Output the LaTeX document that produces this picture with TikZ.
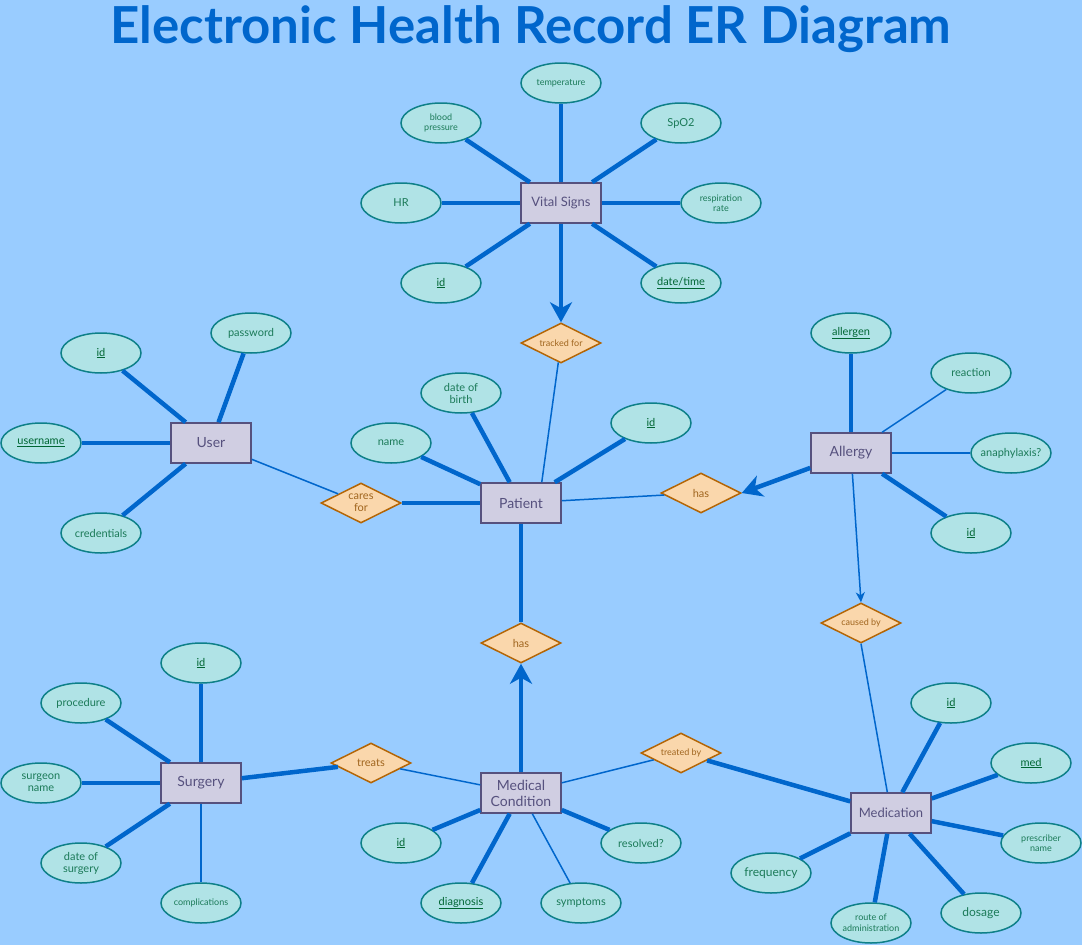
\documentclass[tikz,border=0pt]{standalone}
\usepackage{fontspec}
\setmainfont{Lato}
\usetikzlibrary{positioning,arrows.meta,shapes.geometric}

\definecolor{bgblue}{HTML}{99CCFF}
\definecolor{linkblue}{HTML}{0066CC}
\definecolor{entfill}{HTML}{D0CEE2}
\definecolor{entdraw}{HTML}{56517E}
\definecolor{attfill}{HTML}{B0E3E6}
\definecolor{attdraw}{HTML}{0E8088}
\definecolor{atttext}{HTML}{1B7A58}
\definecolor{keytext}{HTML}{006633}
\definecolor{relfill}{HTML}{FAD7AC}
\definecolor{reldraw}{HTML}{B46504}
\definecolor{reltext}{HTML}{A0651E}

\begin{document}
\begin{tikzpicture}[
  x=1pt, y=-1pt,
  entity/.style={rectangle, draw=entdraw, fill=entfill, line width=1.5pt, minimum width=80pt, minimum height=40pt, inner sep=1pt, align=center, text=entdraw, font=\fontsize{14}{16}\selectfont},
  attr/.style={ellipse, draw=attdraw, fill=attfill, line width=1.5pt, minimum width=80pt, minimum height=40pt, inner xsep=-10pt, inner ysep=0pt, align=center, text=atttext, font=\fontsize{11}{12}\selectfont},
  keyattr/.style={attr, text=keytext},
  small/.style={font=\fontsize{9}{10.5}\selectfont},
  rel/.style={diamond, aspect=2, draw=reldraw, fill=relfill, line width=1.5pt, minimum width=80pt, minimum height=40pt, inner sep=0pt, align=center, text=reltext, font=\fontsize{11}{12}\selectfont},
  heavy/.style={draw=linkblue, line width=4.5pt},
  light/.style={draw=linkblue, line width=1.5pt},
  bigarrow/.style={heavy, -{Stealth[length=20pt, width=22pt, inset=6pt]}},
  smallarrow/.style={light, -{Stealth[length=10pt, width=9pt, inset=3pt]}}
]
  \fill[bgblue] (0,0) rectangle (1082,945);
  \useasboundingbox (0,0) rectangle (1082,945);

  \node[text=linkblue, font=\bfseries\fontsize{51}{56}\selectfont] (title) at (531,29) {Electronic Health Record ER Diagram};

  % entities
  \node[entity, font=\fontsize{13}{15}\selectfont] (vitals) at (561,203) {Vital Signs};
  \node[entity] (user) at (211,443) {User};
  \node[entity] (patient) at (521,503) {Patient};
  \node[entity] (allergy) at (851,453) {Allergy};
  \node[entity] (surgery) at (201,783) {Surgery};
  \node[entity] (condition) at (521,793) {Medical\\Condition};
  \node[entity, font=\fontsize{13}{15}\selectfont] (medication) at (891,813) {Medication};

  % relationships
  \node[rel, small] (trackedfor) at (561,343) {tracked for};
  \node[rel] (caresfor) at (361,503) {cares\\for};
  \node[rel] (hasallergy) at (701,493) {has};
  \node[rel] (hascondition) at (521,643) {has};
  \node[rel, small] (causedby) at (861,623) {caused by};
  \node[rel] (treats) at (371,763) {treats};
  \node[rel, small] (treatedby) at (681,753) {treated by};

  % vital signs attributes
  \node[attr, small] (vtemp) at (561,83) {temperature};
  \node[attr, small] (vbp) at (441,123) {blood\\pressure};
  \node[attr] (vspo) at (681,123) {SpO2};
  \node[attr] (vhr) at (401,203) {HR};
  \node[attr, small] (vresp) at (721,203) {respiration\\rate};
  \node[keyattr] (vid) at (441,283) {\underline{id}};
  \node[keyattr] (vdate) at (681,283) {\underline{date/time}};

  % user attributes
  \node[keyattr] (uid) at (101,353) {\underline{id}};
  \node[attr] (upass) at (251,333) {password};
  \node[keyattr] (uname) at (41,443) {\underline{username}};
  \node[attr] (ucred) at (101,533) {credentials};

  % patient attributes
  \node[attr] (pname) at (391,443) {name};
  \node[attr] (pdob) at (461,393) {date of\\birth};
  \node[keyattr] (pid) at (651,423) {\underline{id}};

  % allergy attributes
  \node[keyattr] (aallergen) at (851,333) {\underline{allergen}};
  \node[attr] (areaction) at (971,373) {reaction};
  \node[attr] (aana) at (1011,453) {anaphylaxis?};
  \node[keyattr] (aid) at (971,533) {\underline{id}};

  % surgery attributes
  \node[keyattr] (sid) at (201,663) {\underline{id}};
  \node[attr] (sproc) at (81,703) {procedure};
  \node[attr] (ssurgeon) at (41,783) {surgeon\\name};
  \node[attr] (sdate) at (81,863) {date of\\surgery};
  \node[attr, small] (scompl) at (201,903) {complications};

  % medical condition attributes
  \node[keyattr] (cid) at (401,843) {\underline{id}};
  \node[keyattr] (cdiag) at (461,903) {\underline{diagnosis}};
  \node[attr] (csymp) at (581,903) {symptoms};
  \node[attr] (cres) at (641,843) {resolved?};

  % medication attributes
  \node[keyattr] (mid) at (951,703) {\underline{id}};
  \node[keyattr] (mmed) at (1031,763) {\underline{med}};
  \node[attr, small] (mpresc) at (1041,843) {prescriber\\name};
  \node[attr, font=\fontsize{12}{13}\selectfont] (mfreq) at (771,873) {frequency};
  \node[attr, small] (mroute) at (871,923) {route of\\administration};
  \node[attr, font=\fontsize{12}{13}\selectfont] (mdose) at (981,913) {dosage};

  % attribute links
  \draw[heavy] (vitals) -- (vtemp);
  \draw[heavy] (vitals) -- (vbp);
  \draw[heavy] (vitals) -- (vspo);
  \draw[heavy] (vitals) -- (vhr);
  \draw[heavy] (vitals) -- (vresp);
  \draw[heavy] (vitals) -- (vid);
  \draw[heavy] (vitals) -- (vdate);

  \draw[heavy] (user) -- (uid);
  \draw[heavy] (user) -- (upass);
  \draw[heavy] (user) -- (uname);
  \draw[heavy] (user) -- (ucred);

  \draw[heavy] (patient) -- (pname);
  \draw[heavy] (patient) -- (pdob);
  \draw[heavy] (patient) -- (pid);

  \draw[heavy] (allergy) -- (aallergen);
  \draw[light] (allergy) -- (areaction);
  \draw[light] (allergy) -- (aana);
  \draw[heavy] (allergy) -- (aid);

  \draw[heavy] (surgery) -- (sid);
  \draw[heavy] (surgery) -- (sproc);
  \draw[heavy] (surgery) -- (ssurgeon);
  \draw[heavy] (surgery) -- (sdate);
  \draw[light] (surgery) -- (scompl);

  \draw[heavy] (condition) -- (cid);
  \draw[heavy] (condition) -- (cdiag);
  \draw[light] (condition) -- (csymp);
  \draw[heavy] (condition) -- (cres);

  \draw[heavy] (medication) -- (mid);
  \draw[heavy] (medication) -- (mmed);
  \draw[heavy] (medication) -- (mpresc);
  \draw[heavy] (medication) -- (mfreq);
  \draw[heavy] (medication) -- (mroute);
  \draw[heavy] (medication) -- (mdose);

  % relationship links
  \draw[bigarrow] (vitals) -- (trackedfor);
  \draw[light] (trackedfor) -- (patient.45);
  \draw[light] (user) -- (caresfor);
  \draw[heavy] (caresfor) -- (patient);
  \draw[light] (patient) -- (hasallergy);
  \draw[bigarrow] (allergy) -- (hasallergy.east);
  \draw[smallarrow] (allergy) -- (causedby.north);
  \draw[light] (causedby.south) -- (medication);
  \draw[heavy] (patient) -- (hascondition);
  \draw[bigarrow] (condition) -- (hascondition);
  \draw[heavy] (surgery) -- (treats);
  \draw[light] (treats) -- (condition);
  \draw[light] (condition) -- (treatedby);
  \draw[heavy] (treatedby) -- (medication);
\end{tikzpicture}
\end{document}
